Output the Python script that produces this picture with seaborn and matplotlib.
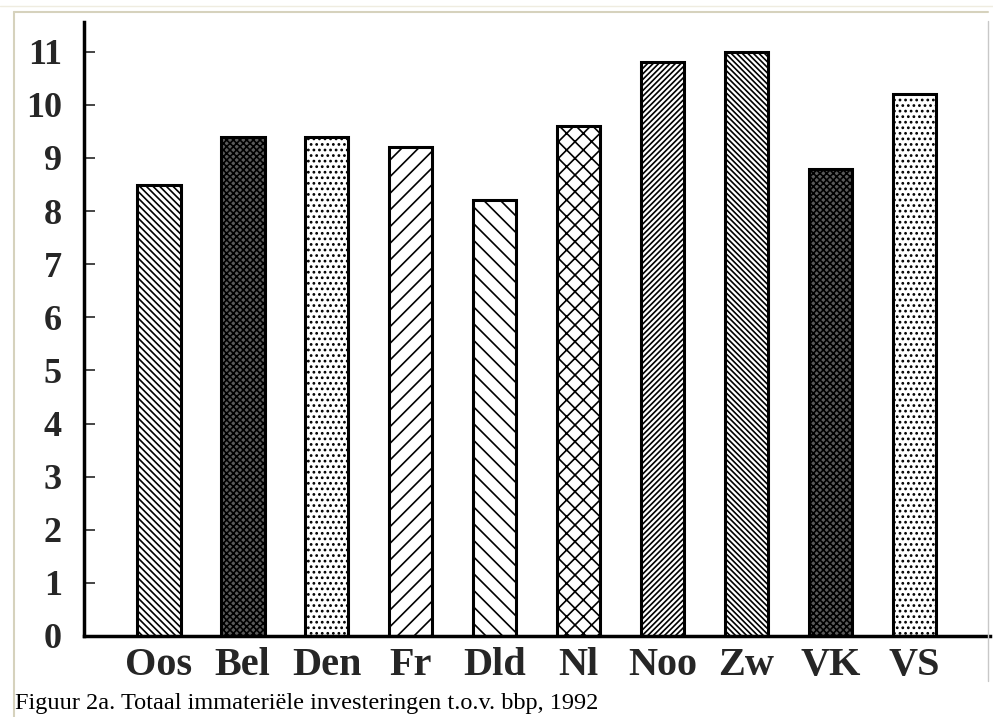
import matplotlib
matplotlib.use("Agg")
import matplotlib.pyplot as plt
import seaborn as sns
import pandas as pd
from matplotlib.lines import Line2D

categories = ["Oos", "Bel", "Den", "Fr", "Dld", "Nl", "Noo", "Zw", "VK", "VS"]
values = [8.5, 9.4, 9.4, 9.2, 8.2, 9.6, 10.8, 11.0, 8.8, 10.2]
yticks = list(range(0, 12))
caption = "Figuur 2a. Totaal immateriële investeringen t.o.v. bbp, 1992"

hatches = ["\\\\\\\\\\", "xxxxx", "...", "//", "\\\\", "xx", "//////", "\\\\\\\\\\\\", "xxxxx", "..."]
faces = ["white", "#5a5a5a", "white", "white", "white", "white", "white", "white", "#5a5a5a", "white"]

sns.set_style("white")
plt.rcParams["hatch.linewidth"] = 1.2

fig = plt.figure(figsize=(9.93, 7.17), dpi=100)
ax = fig.add_axes([84/993, 81/717, 906/993, 614/717])

df = pd.DataFrame({"country": categories, "value": values})
sns.barplot(data=df, x="country", y="value", color="white", edgecolor="black",
            linewidth=2.2, width=0.52, ax=ax, saturation=1)
for p, h, fc in zip(ax.patches, hatches, faces):
    p.set_hatch(h)
    p.set_facecolor(fc)
    p.set_edgecolor("black")

ax.set_xlim(-0.89, 9.9)
ax.set_ylim(0, 11.56)
ax.set_yticks(yticks)
ax.set_yticklabels([str(t) for t in yticks])
ax.set_xlabel("")
ax.set_ylabel("")
for s in ["top", "right"]:
    ax.spines[s].set_visible(False)
for s in ["left", "bottom"]:
    ax.spines[s].set_linewidth(2.5)
    ax.spines[s].set_color("black")
ax.tick_params(axis="y", direction="in", length=8, width=1.2, pad=16, left=True)
ax.tick_params(axis="x", length=0, pad=8)
for lab in ax.get_yticklabels():
    lab.set_fontfamily("Liberation Serif")
    lab.set_fontweight("bold")
    lab.set_fontsize(26)
for lab in ax.get_xticklabels():
    lab.set_fontfamily("Liberation Serif")
    lab.set_fontweight("bold")
    lab.set_fontsize(29)

# page frame
fig.add_artist(Line2D([14/993, 988/993], [1 - 12/717, 1 - 12/717], color="#d6d2bd", lw=1.5, transform=fig.transFigure))
fig.add_artist(Line2D([0, 1], [1 - 6/717, 1 - 6/717], color="#efece0", lw=1.0, transform=fig.transFigure))
fig.add_artist(Line2D([14/993, 14/993], [0, 1 - 12/717], color="#d6d2bd", lw=1.5, transform=fig.transFigure))
fig.add_artist(Line2D([988/993, 988/993], [0.05, 1 - 21/717], color="#c8c8c8", lw=1.0, transform=fig.transFigure))

fig.text(15/993, 1 - 709/717, caption, fontfamily="Liberation Serif", fontsize=17.5, color="black", ha="left", va="baseline")

fig.savefig("out.png", dpi=100)
